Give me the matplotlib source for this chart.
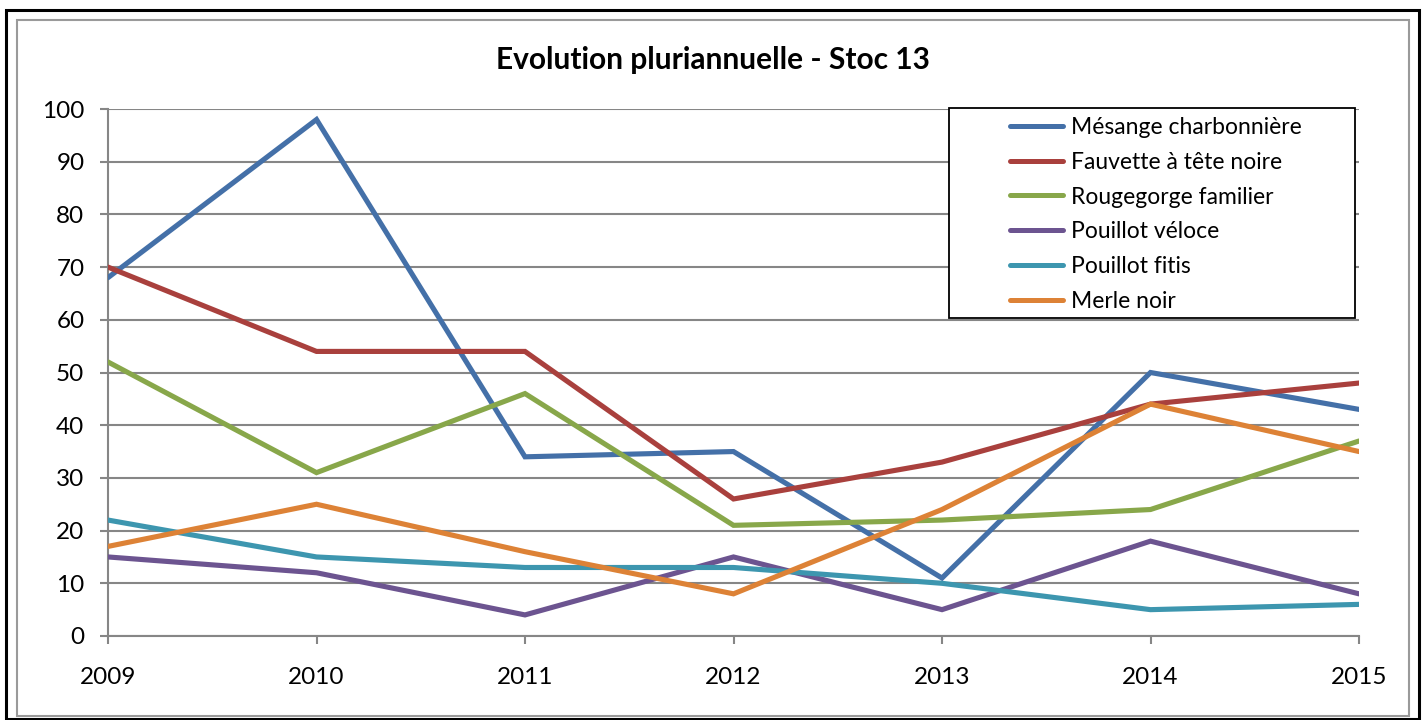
import matplotlib
matplotlib.use("Agg")
import matplotlib.pyplot as plt
from matplotlib.patches import Rectangle

# data
years = [2009, 2010, 2011, 2012, 2013, 2014, 2015]
mesange = [68, 98, 34, 35, 11, 50, 43]
fauvette = [70, 54, 54, 26, 33, 44, 48]
rougegorge = [52, 31, 46, 21, 22, 24, 37]
pouillot_veloce = [15, 12, 4, 15, 5, 18, 8]
pouillot_fitis = [22, 15, 13, 13, 10, 5, 6]
merle = [17, 25, 16, 8, 24, 44, 35]

series = [
    ("Mésange charbonnière", mesange, "#4470A8"),
    ("Fauvette à tête noire", fauvette, "#A9403D"),
    ("Rougegorge familier", rougegorge, "#88A74A"),
    ("Pouillot véloce", pouillot_veloce, "#6C5490"),
    ("Pouillot fitis", pouillot_fitis, "#3D96AF"),
    ("Merle noir", merle, "#DD8236"),
]

plt.rcParams["font.family"] = ["Lato", "DejaVu Sans"]

W, H = 1424, 720
fig = plt.figure(figsize=(W / 100, H / 100), dpi=100)

def fx(px):
    return px / W

def fy(py):
    return 1 - py / H

# outer frames
fig.patches.append(Rectangle((fx(6), fy(719)), fx(1419) - fx(6), fy(10) - fy(719),
                             transform=fig.transFigure, fill=False, edgecolor="black", lw=2.2))
fig.patches.append(Rectangle((fx(16.5), fy(716)), fx(1408.5) - fx(16.5), fy(20) - fy(716),
                             transform=fig.transFigure, fill=False, edgecolor="#9a9a9a", lw=1.5))

ax = fig.add_axes([fx(108), fy(636), fx(1359) - fx(108), fy(109) - fy(636)])

for name, vals, col in series:
    ax.plot(years, vals, color=col, lw=3.7, label=name, solid_capstyle="round",
            solid_joinstyle="miter", zorder=3)

ax.set_xlim(2009, 2015)
ax.set_ylim(0, 100)
ax.set_xticks(years)
ax.set_yticks(range(0, 101, 10))
ax.yaxis.grid(True, color="#868686", lw=1.5)
ax.set_axisbelow(True)
for s in ["top", "right"]:
    ax.spines[s].set_visible(False)
for s in ["left", "bottom"]:
    ax.spines[s].set_color("#868686")
    ax.spines[s].set_linewidth(1.5)
ax.tick_params(axis="both", direction="out", length=6, width=1.5, color="#868686",
               labelsize=17.5, labelcolor="black")
ax.tick_params(axis="y", pad=11)
ax.tick_params(axis="x", pad=16)

fig.text(fx(713), fy(60), "Evolution pluriannuelle - Stoc 13", ha="center", va="center",
         fontsize=21.5, fontweight="bold")

# legend box drawn separately, legend text on top of it
box = Rectangle((fx(949), fy(318)), fx(1355) - fx(949), fy(108) - fy(318),
                transform=fig.transFigure, facecolor="white", edgecolor="black",
                lw=1.3, zorder=5, clip_on=False)
ax.add_patch(box)
handles, labels = ax.get_legend_handles_labels()
leg = fig.legend(handles, labels, loc="upper left", bbox_to_anchor=(fx(1010), fy(117)),
                 bbox_transform=fig.transFigure, frameon=False, fontsize=16.5,
                 borderpad=0, borderaxespad=0, handlelength=2.3, handletextpad=0.38,
                 labelspacing=0.6)
for h in leg.get_lines():
    h.set_linewidth(3.6)

fig.savefig("out.png", dpi=100)
